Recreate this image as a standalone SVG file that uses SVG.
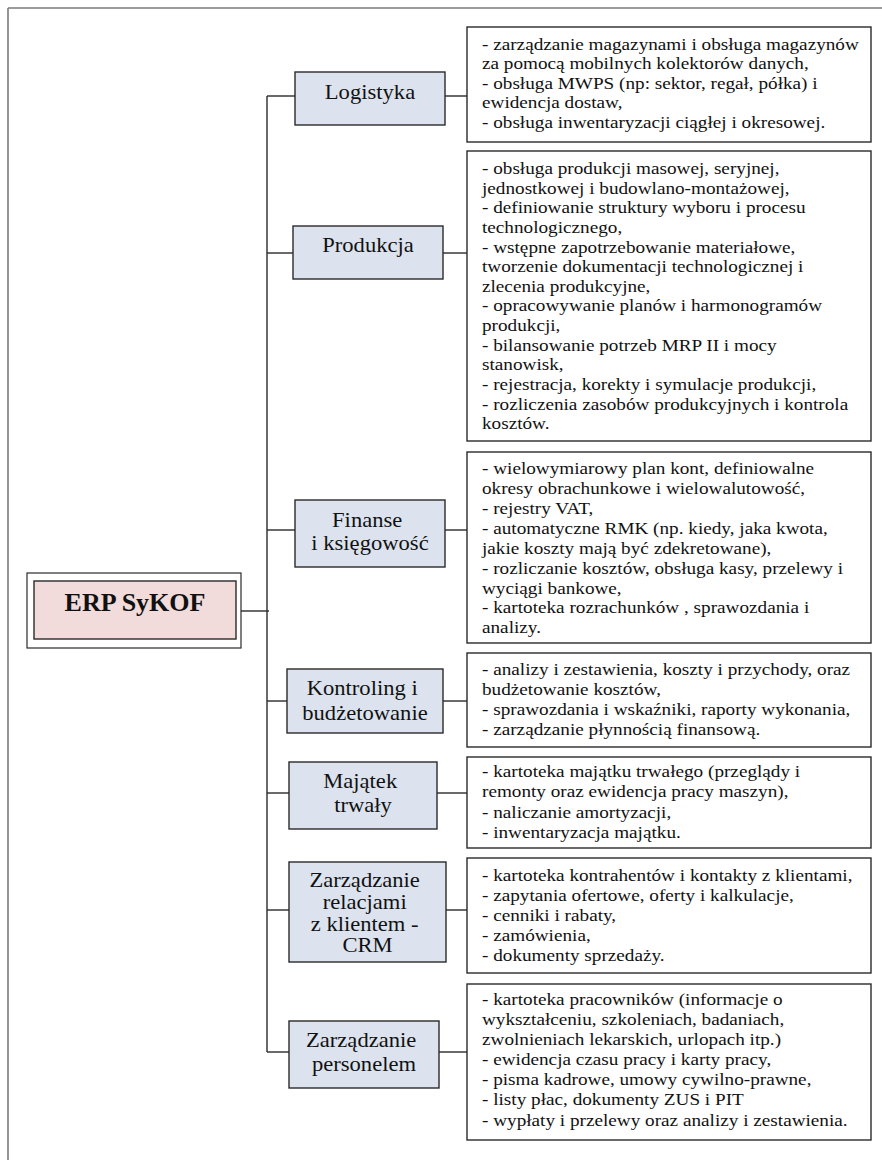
<svg xmlns="http://www.w3.org/2000/svg" width="882" height="1160" viewBox="0 0 882 1160" font-family="'Liberation Serif', 'DejaVu Serif', serif">
<style>
.frame{fill:none;stroke:#7a7a7a;stroke-width:1.6}
.mod{fill:#dce3ee;stroke:#2a2a2a;stroke-width:1.4}
.det{fill:#fff;stroke:#2a2a2a;stroke-width:1.4}
.erpO{fill:#fff;stroke:#2a2a2a;stroke-width:1.2}
.erpI{fill:#f2dcdb;stroke:#2a2a2a;stroke-width:1.4}
.conn line{stroke:#2a2a2a;stroke-width:1.4}
text{font-family:'Liberation Serif','DejaVu Serif',serif}
.lt{font-size:20px;fill:#111;text-anchor:middle}
.rt{font-size:17px;fill:#111}
.erp{font-size:26px;font-weight:bold;fill:#111;text-anchor:middle}
</style>
<rect width="882" height="1160" fill="#fff"/>
<g id="frame">
<line class="frame" x1="8" y1="8" x2="882" y2="8"/>
<line class="frame" x1="8" y1="8" x2="8" y2="1160"/>
</g>
<g id="connectors" class="conn">
<line x1="267" y1="96" x2="267" y2="1052"/>
<line x1="241" y1="611" x2="269" y2="611"/>
<line x1="267" y1="96" x2="295" y2="96"/>
<line x1="445" y1="96" x2="467" y2="96"/>
<line x1="267" y1="253" x2="293" y2="253"/>
<line x1="443" y1="253" x2="467" y2="253"/>
<line x1="267" y1="530" x2="295" y2="530"/>
<line x1="445" y1="530" x2="467" y2="530"/>
<line x1="267" y1="701" x2="287" y2="701"/>
<line x1="443" y1="701" x2="467" y2="701"/>
<line x1="267" y1="793" x2="289" y2="793"/>
<line x1="437" y1="793" x2="467" y2="793"/>
<line x1="267" y1="910" x2="289" y2="910"/>
<line x1="446" y1="910" x2="467" y2="910"/>
<line x1="267" y1="1052" x2="289" y2="1052"/>
<line x1="439" y1="1052" x2="467" y2="1052"/>
</g>
<g id="erp">
<rect class="erpO" x="27" y="573" width="214" height="75"/>
<rect class="erpI" x="34" y="581" width="202" height="58"/>
<text class="erp" x="135" y="611">ERP SyKOF</text>
</g>
<g id="logistyka">
<rect class="mod" x="295" y="72" width="150" height="53"/>
<text class="lt" transform="translate(370 0) scale(1.13 1)" x="0" y="99">Logistyka</text>
</g>
<g id="logistyka-det">
<rect class="det" x="467" y="27" width="404" height="115"/>
<text class="rt" transform="translate(482 0) scale(1.13 1)">
<tspan x="0" y="50">- zarządzanie magazynami i obsługa magazynów</tspan>
<tspan x="0" y="69.5">za pomocą mobilnych kolektorów danych,</tspan>
<tspan x="0" y="89">- obsługa MWPS (np: sektor, regał, półka) i</tspan>
<tspan x="0" y="108.5">ewidencja dostaw,</tspan>
<tspan x="0" y="128">- obsługa inwentaryzacji ciągłej i okresowej.</tspan>
</text>
</g>
<g id="produkcja">
<rect class="mod" x="293" y="226" width="150" height="53"/>
<text class="lt" transform="translate(368 0) scale(1.13 1)" x="0" y="252">Produkcja</text>
</g>
<g id="produkcja-det">
<rect class="det" x="467" y="151" width="404" height="290"/>
<text class="rt" transform="translate(482 0) scale(1.13 1)">
<tspan x="0" y="174">- obsługa produkcji masowej, seryjnej,</tspan>
<tspan x="0" y="193.6">jednostkowej i budowlano-montażowej,</tspan>
<tspan x="0" y="213.3">- definiowanie struktury wyboru i procesu</tspan>
<tspan x="0" y="232.9">technologicznego,</tspan>
<tspan x="0" y="252.6">- wstępne zapotrzebowanie materiałowe,</tspan>
<tspan x="0" y="272.2">tworzenie dokumentacji technologicznej i</tspan>
<tspan x="0" y="291.8">zlecenia produkcyjne,</tspan>
<tspan x="0" y="311.5">- opracowywanie planów i harmonogramów</tspan>
<tspan x="0" y="331.1">produkcji,</tspan>
<tspan x="0" y="350.8">- bilansowanie potrzeb MRP II i mocy</tspan>
<tspan x="0" y="370.4">stanowisk,</tspan>
<tspan x="0" y="390">- rejestracja, korekty i symulacje produkcji,</tspan>
<tspan x="0" y="409.7">- rozliczenia zasobów produkcyjnych i kontrola</tspan>
<tspan x="0" y="429.3">kosztów.</tspan>
</text>
</g>
<g id="finanse">
<rect class="mod" x="295" y="500" width="150" height="67"/>
<text class="lt" transform="translate(370 0) scale(1.13 1)">
<tspan x="0" y="527">Finanse</tspan>
<tspan x="0" y="550">i księgowość</tspan>
</text>
</g>
<g id="finanse-det">
<rect class="det" x="467" y="452" width="404" height="191"/>
<text class="rt" transform="translate(482 0) scale(1.13 1)">
<tspan x="0" y="474.3">- wielowymiarowy plan kont, definiowalne</tspan>
<tspan x="0" y="494.2">okresy obrachunkowe i wielowalutowość,</tspan>
<tspan x="0" y="514.1">- rejestry VAT,</tspan>
<tspan x="0" y="534">- automatyczne RMK (np. kiedy, jaka kwota,</tspan>
<tspan x="0" y="553.9">jakie koszty mają być zdekretowane),</tspan>
<tspan x="0" y="573.7">- rozliczanie kosztów, obsługa kasy, przelewy i</tspan>
<tspan x="0" y="593.6">wyciągi bankowe,</tspan>
<tspan x="0" y="613.5">- kartoteka rozrachunków , sprawozdania i</tspan>
<tspan x="0" y="633.3">analizy.</tspan>
</text>
</g>
<g id="kontroling">
<rect class="mod" x="287" y="669" width="156" height="64"/>
<text class="lt" transform="translate(365 0) scale(1.13 1)">
<tspan x="0" y="695">Kontroling i</tspan>
<tspan x="0" y="720">budżetowanie</tspan>
</text>
</g>
<g id="kontroling-det">
<rect class="det" x="467" y="653" width="404" height="94"/>
<text class="rt" transform="translate(482 0) scale(1.13 1)">
<tspan x="0" y="675">- analizy i zestawienia, koszty i przychody, oraz</tspan>
<tspan x="0" y="695">budżetowanie kosztów,</tspan>
<tspan x="0" y="715">- sprawozdania i wskaźniki, raporty wykonania,</tspan>
<tspan x="0" y="735">- zarządzanie płynnością finansową.</tspan>
</text>
</g>
<g id="majatek">
<rect class="mod" x="289" y="762" width="148" height="67"/>
<text class="lt" transform="translate(363 0) scale(1.13 1)">
<tspan x="0" y="788.3">Majątek</tspan>
<tspan x="0" y="811.7">trwały</tspan>
</text>
</g>
<g id="majatek-det">
<rect class="det" x="467" y="757" width="404" height="91"/>
<text class="rt" transform="translate(482 0) scale(1.13 1)">
<tspan x="0" y="776.7">- kartoteka majątku trwałego (przeglądy i</tspan>
<tspan x="0" y="797.2">remonty oraz ewidencja pracy maszyn),</tspan>
<tspan x="0" y="817.8">- naliczanie amortyzacji,</tspan>
<tspan x="0" y="838.3">- inwentaryzacja majątku.</tspan>
</text>
</g>
<g id="crm">
<rect class="mod" x="289" y="862" width="157" height="100"/>
<text class="lt" transform="translate(367.5 0) scale(1.13 1)">
<tspan x="0" y="887">Zarządzanie</tspan>
<tspan x="0" y="908.8">relacjami</tspan>
<tspan x="0" y="930.6">z klientem -</tspan>
<tspan x="0" y="952.5">CRM</tspan>
</text>
</g>
<g id="crm-det">
<rect class="det" x="467" y="858" width="404" height="115"/>
<text class="rt" transform="translate(482 0) scale(1.13 1)">
<tspan x="0" y="880.7">- kartoteka kontrahentów i kontakty z klientami,</tspan>
<tspan x="0" y="900.7">- zapytania ofertowe, oferty i kalkulacje,</tspan>
<tspan x="0" y="920.7">- cenniki i rabaty,</tspan>
<tspan x="0" y="940.7">- zamówienia,</tspan>
<tspan x="0" y="960.7">- dokumenty sprzedaży.</tspan>
</text>
</g>
<g id="personel">
<rect class="mod" x="289" y="1021" width="150" height="67"/>
<text class="lt" transform="translate(364 0) scale(1.13 1)">
<tspan x="0" y="1047.3">Zarządzanie</tspan>
<tspan x="0" y="1070.7">personelem</tspan>
</text>
</g>
<g id="personel-det">
<rect class="det" x="467" y="984" width="404" height="156"/>
<text class="rt" transform="translate(482 0) scale(1.13 1)">
<tspan x="0" y="1005">- kartoteka pracowników (informacje o</tspan>
<tspan x="0" y="1025.1">wykształceniu, szkoleniach, badaniach,</tspan>
<tspan x="0" y="1045.2">zwolnieniach lekarskich, urlopach itp.)</tspan>
<tspan x="0" y="1065.3">- ewidencja czasu pracy i karty pracy,</tspan>
<tspan x="0" y="1085.4">- pisma kadrowe, umowy cywilno-prawne,</tspan>
<tspan x="0" y="1105.5">- listy płac, dokumenty ZUS i PIT</tspan>
<tspan x="0" y="1125.7">- wypłaty i przelewy oraz analizy i zestawienia.</tspan>
</text>
</g>
</svg>
